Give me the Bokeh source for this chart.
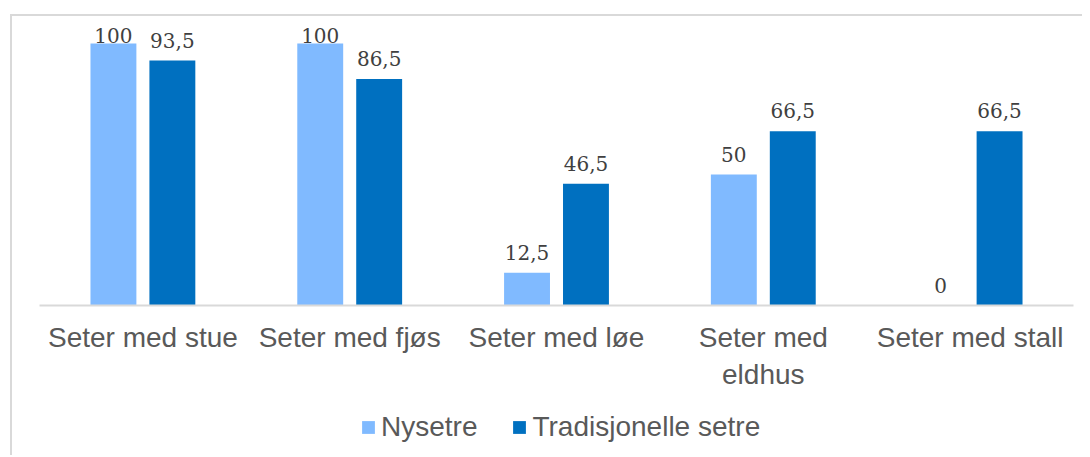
import numpy as np
from bokeh.plotting import figure
from bokeh.layouts import column
from bokeh.models import ColumnDataSource, FactorRange, Range1d, Legend, LegendItem
from bokeh.transform import dodge
from bokeh.core.properties import value
from bokeh.embed import file_html
from bokeh.resources import INLINE

categories = ["Seter med stue", "Seter med fjøs", "Seter med løe", "Seter med\neldhus", "Seter med stall"]
nysetre = [100, 100, 12.5, 50, 0]
tradisjonelle = [93.5, 86.5, 46.5, 66.5, 66.5]
series_names = ["Nysetre", "Tradisjonelle setre"]
colors = ["#80BAFF", "#0070C0"]


def fmt(v):
    return f"{v:g}".replace(".", ",")


def label_pos(vals):
    v = np.array(vals, dtype=float)
    return np.minimum(v + 7.8, 103.1)


src = ColumnDataSource(dict(
    cat=categories,
    ny=nysetre,
    tr=tradisjonelle,
    ny_lab=[fmt(v) for v in nysetre],
    tr_lab=[fmt(v) for v in tradisjonelle],
    ny_y=label_pos(nysetre),
    tr_y=label_pos(tradisjonelle),
))

p = figure(x_range=FactorRange(*categories, range_padding=0), y_range=Range1d(0, 108.8),
           width=1070, height=389, output_backend="svg", toolbar_location=None,
           y_axis_location=None,
           min_border_left=27, min_border_right=9, min_border_top=4, min_border_bottom=100)

off = 0.1425
bw = 0.222
r1 = p.vbar(x=dodge("cat", -off, range=p.x_range), top="ny", width=bw, source=src,
            fill_color=colors[0], line_color=None)
r2 = p.vbar(x=dodge("cat", off, range=p.x_range), top="tr", width=bw, source=src,
            fill_color=colors[1], line_color=None)

for xo, ycol, tcol in [(-off, "ny_y", "ny_lab"), (off, "tr_y", "tr_lab")]:
    p.text(x=dodge("cat", xo, range=p.x_range), y=ycol, text=tcol, source=src,
           text_align="center", text_baseline="alphabetic",
           text_font=value("DejaVu Serif"), text_font_size="20px", text_color="#404040")

p.xgrid.grid_line_color = None
p.ygrid.grid_line_color = None
p.outline_line_color = None
p.xaxis.axis_line_color = "#d9d9d9"
p.xaxis.axis_line_width = 2
p.xaxis.major_tick_line_color = None
p.xaxis.minor_tick_line_color = None
p.xaxis.major_label_text_font = "Liberation Sans"
p.xaxis.major_label_text_font_size = "28px"
p.xaxis.major_label_text_color = "#595959"
p.xaxis.major_label_standoff = 10

# legend strip
q = figure(x_range=Range1d(0, 1), y_range=Range1d(0, 1), width=1070, height=50,
           output_backend="svg", toolbar_location=None,
           x_axis_location=None, y_axis_location=None,
           min_border_left=27, min_border_right=9, min_border_top=0, min_border_bottom=0)
q.grid.grid_line_color = None
q.outline_line_color = None
l1 = q.vbar(x=[-50], bottom=[-60], top=[-55], width=0.1, fill_color=colors[0], line_color=None)
l2 = q.vbar(x=[-50], bottom=[-60], top=[-55], width=0.1, fill_color=colors[1], line_color=None)
legend = Legend(items=[LegendItem(label=series_names[0], renderers=[l1]),
                       LegendItem(label=series_names[1], renderers=[l2])],
                orientation="horizontal", location=(321, 12),
                glyph_width=16, glyph_height=16, label_standoff=5, spacing=34,
                label_text_font="Liberation Sans", label_text_font_size="28px",
                label_text_color="#595959", border_line_color=None,
                background_fill_alpha=0, padding=0, margin=0)
q.add_layout(legend, "center")

layout = column(p, q, spacing=0)
layout.styles = {"border-left": "2px solid #d9d9d9", "border-top": "2px solid #d9d9d9",
                 "margin-left": "10px", "margin-top": "14px"}

open("out.html", "w").write(file_html(layout, INLINE))
